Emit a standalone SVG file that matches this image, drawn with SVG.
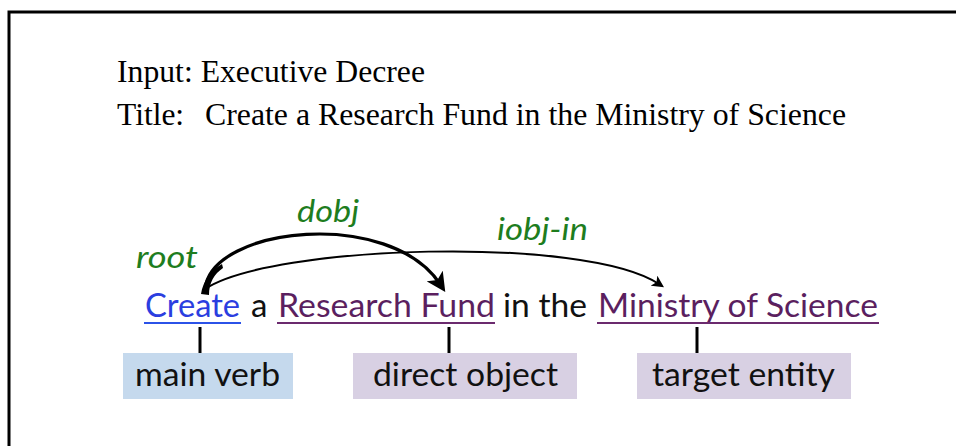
<svg xmlns="http://www.w3.org/2000/svg" width="956" height="446" viewBox="0 0 956 446">
<style>
.serif{font-family:"Liberation Serif","Times New Roman",serif;font-size:31.5px;fill:#000}
.sans{font-family:Lato,"Noto Sans",sans-serif;font-size:33px}
.lab{font-family:Lato,"Noto Sans",sans-serif;font-size:30px;font-style:italic;fill:#1e7d1e}
.box{font-family:Lato,"Noto Sans",sans-serif;font-size:33px;fill:#111}
.arc{fill:none;stroke:#000;stroke-linecap:round}
.tick{stroke:#000;stroke-width:3}
</style>
<defs>
<marker id="ah" markerWidth="6" markerHeight="6" refX="3" refY="3" orient="auto" markerUnits="strokeWidth">
<path d="M0,0 L6,3 L0,6 L1.5,3 Z" fill="#000"/>
</marker>
</defs>
<rect width="956" height="446" fill="#fff"/>
<g id="frame">
<path d="M9,446 L9,12 L956,12" fill="none" stroke="#000" stroke-width="3"/>
</g>
<g id="header">
<text class="serif" x="117" y="82" textLength="308" lengthAdjust="spacingAndGlyphs">Input: Executive Decree</text>
<text class="serif" x="117" y="125">Title:</text>
<text class="serif" x="205" y="125" textLength="641" lengthAdjust="spacingAndGlyphs">Create a Research Fund in the Ministry of Science</text>
</g>
<g id="connectors">
<path class="arc" d="M205,289 C212,226 390,208 440,284" stroke-width="3.2" marker-end="url(#ah)"/>
<path class="arc" d="M205,289 C270,245 585,235 659,284" stroke-width="2" marker-end="url(#ah)"/>
<path d="M201,294 C203,281 211,270 222,264 L223,268 C214,274 209,283 209,295 Z" fill="#000"/>
<line class="tick" x1="200" y1="327" x2="200" y2="353"/>
<line class="tick" x1="449" y1="327" x2="449" y2="353"/>
<line class="tick" x1="697" y1="327" x2="697" y2="353"/>
</g>
<g id="labels">
<text class="lab" x="136" y="268" textLength="62" lengthAdjust="spacingAndGlyphs">root</text>
<text class="lab" x="297" y="222" textLength="62" lengthAdjust="spacingAndGlyphs">dobj</text>
<text class="lab" x="497" y="240" textLength="91" lengthAdjust="spacingAndGlyphs">iobj-in</text>
</g>
<g id="sentence">
<g id="node-create">
<text class="sans" x="145" y="317" fill="#2b3ee0" textLength="95" lengthAdjust="spacingAndGlyphs">Create</text>
<line x1="144" y1="323" x2="241" y2="323" stroke="#2b52e8" stroke-width="2.2"/>
</g>
<text class="sans" x="251" y="317" fill="#111">a</text>
<g id="node-fund">
<text class="sans" x="278" y="317" fill="#5b1f5f" textLength="217" lengthAdjust="spacingAndGlyphs">Research Fund</text>
<line x1="277" y1="323" x2="495" y2="323" stroke="#6b2a6e" stroke-width="2.2"/>
</g>
<text class="sans" x="503" y="317" fill="#111" textLength="84" lengthAdjust="spacingAndGlyphs">in the</text>
<g id="node-ministry">
<text class="sans" x="598" y="317" fill="#5b1f5f" textLength="280" lengthAdjust="spacingAndGlyphs">Ministry of Science</text>
<line x1="597" y1="323" x2="879" y2="323" stroke="#6b2a6e" stroke-width="2.2"/>
</g>
</g>
<g id="node-main-verb">
<rect x="123" y="353" width="170" height="46" fill="#c5d9ed"/>
<text class="box" x="135" y="386" textLength="145" lengthAdjust="spacingAndGlyphs">main verb</text>
</g>
<g id="node-direct-object">
<rect x="353" y="353" width="224" height="46" fill="#d8d0e3"/>
<text class="box" x="373" y="386" textLength="185" lengthAdjust="spacingAndGlyphs">direct object</text>
</g>
<g id="node-target-entity">
<rect x="637" y="353" width="214" height="46" fill="#d8d0e3"/>
<text class="box" x="652" y="386" textLength="183" lengthAdjust="spacingAndGlyphs">target entity</text>
</g>
</svg>
